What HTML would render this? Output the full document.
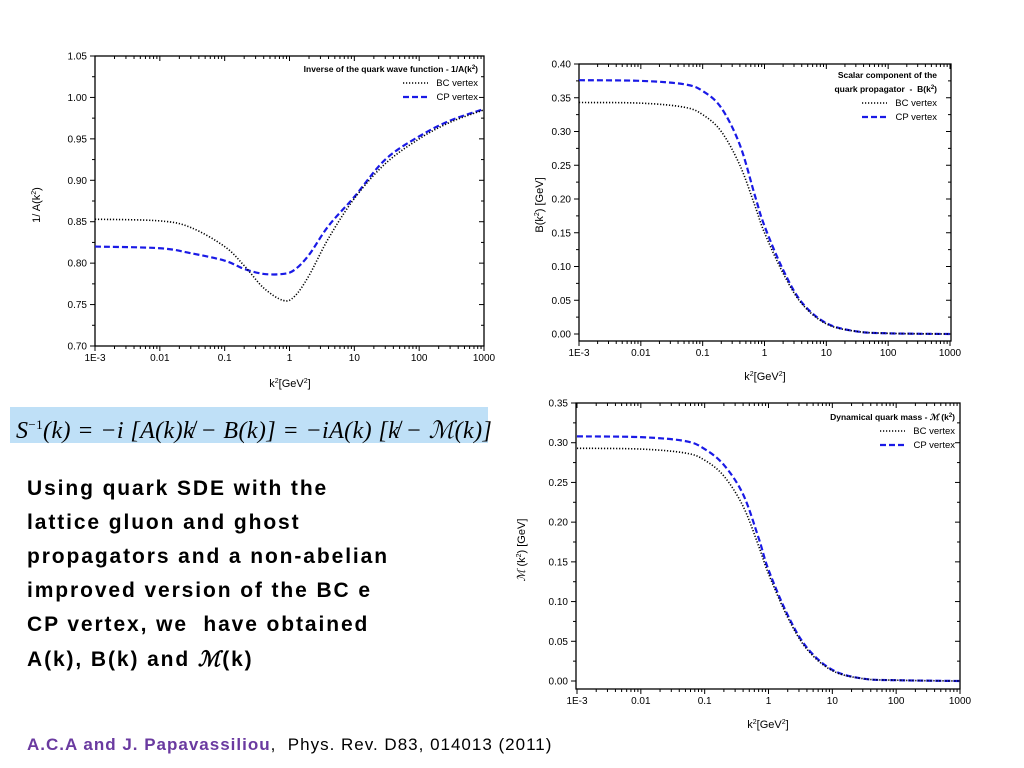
<!DOCTYPE html>
<html><head><meta charset="utf-8">
<style>
body{margin:0;width:1024px;height:768px;background:#fff;overflow:hidden;position:relative;font-family:"Liberation Sans",sans-serif}
.txt{position:absolute;left:27px;top:472px;font-weight:bold;font-size:21px;letter-spacing:1.9px;line-height:34px;color:#000;white-space:nowrap}
.cite{position:absolute;left:27px;top:735px;font-size:17px;letter-spacing:1px;color:#000;white-space:nowrap}
.formula{position:absolute;left:10px;top:407px;width:478px;height:36px;background:#bfe0f7;font-family:"Liberation Serif",serif;font-size:24px;line-height:36px;padding-left:6px;box-sizing:border-box;font-style:italic;white-space:nowrap;letter-spacing:0.4px}
svg{position:absolute;left:0;top:0}
</style></head><body>
<svg id="svg" width="1024" height="768"></svg>
<div class="formula">S<sup style="font-size:13px;font-style:normal">−1</sup>(k) = −i [A(k)k̸ − B(k)] = −iA(k) [k̸ − ℳ(k)]</div>
<div class="txt">Using quark SDE with the<br>lattice gluon and ghost<br>propagators and a non-abelian<br>improved version of the BC e<br>CP vertex, we&nbsp; have obtained<br>A(k), B(k) and <i style="font-family:'Liberation Serif',serif">ℳ</i>(k)</div>
<div class="cite"><b style="color:#6a3aa0">A.C.A and J. Papavassiliou</b>,&nbsp; Phys. Rev. D83, 014013 (2011)</div>
<script>
const kVals=[0.001,0.01,0.03,0.1,0.2,0.4,0.8,1.2,2,4,10,30,100,300,1000];
const aBC=[0.853,0.851,0.843,0.820,0.797,0.770,0.755,0.760,0.785,0.830,0.878,0.920,0.950,0.970,0.985];
const aCP=[0.820,0.818,0.812,0.803,0.793,0.787,0.787,0.792,0.810,0.845,0.880,0.925,0.953,0.972,0.986];
const kVals2=[0.001,0.01,0.05,0.1,0.2,0.4,0.7,1,2,4,10,30,100,1000];
const bBC=[0.343,0.342,0.336,0.325,0.300,0.250,0.190,0.150,0.090,0.045,0.015,0.004,0.001,0];
const bCP=[0.376,0.375,0.370,0.360,0.335,0.280,0.205,0.160,0.095,0.047,0.016,0.004,0.001,0];
const mBC=[0.293,0.292,0.287,0.278,0.258,0.220,0.170,0.135,0.080,0.040,0.013,0.003,0.001,0];
const mCP=[0.308,0.307,0.302,0.292,0.272,0.235,0.180,0.140,0.083,0.042,0.014,0.003,0.001,0];
const xTicks=["1E-3","0.01","0.1","1","10","100","1000"];
const yTicks1=[0.70,0.75,0.80,0.85,0.90,0.95,1.00,1.05];
const yTicks2=[0,0.05,0.10,0.15,0.20,0.25,0.30,0.35,0.40];
const yTicks3=[0,0.05,0.10,0.15,0.20,0.25,0.30,0.35];

const NS="http://www.w3.org/2000/svg";
const svg=document.getElementById('svg');
function mk(tag,attrs,parent){const e=document.createElementNS(NS,tag);for(const k in attrs)e.setAttribute(k,attrs[k]);(parent||svg).appendChild(e);return e;}
function smooth(pts){let d='M'+pts[0][0]+','+pts[0][1];for(let i=0;i<pts.length-1;i++){const p0=pts[i-1]||pts[i],p1=pts[i],p2=pts[i+1],p3=pts[i+2]||p2;
d+=' C'+(p1[0]+(p2[0]-p0[0])/6)+','+(p1[1]+(p2[1]-p0[1])/6)+' '+(p2[0]-(p3[0]-p1[0])/6)+','+(p2[1]-(p3[1]-p1[1])/6)+' '+p2[0]+','+p2[1];}return d;}

function chart(c){
  const g=mk('g',{});
  
  
  const xs=v=>c.x0+(Math.log10(v)+3)/6*(c.x1-c.x0);
  const ys=v=>c.y0+(v-c.ymin)/(c.ymax-c.ymin)*(c.y1-c.y0);
  const frame=mk('rect',{x:c.fl,y:c.ft,width:c.fr-c.fl,height:c.fb-c.ft,fill:'none',stroke:'#000','stroke-width':1.3},g);
  
  
  for(let d=-3;d<=3;d++){
    for(let m=1;m<10;m++){
      if(d==3&&m>1)break;
      const x=xs(m*Math.pow(10,d));const L=m==1?5:3;
      mk('line',{x1:x,x2:x,y1:c.fb,y2:c.fb+L,stroke:'#000','stroke-width':1},g);
      mk('line',{x1:x,x2:x,y1:c.ft,y2:c.ft+L,stroke:'#000','stroke-width':1},g);
    }
  }
  xTicks.forEach((t,i)=>{const tx=mk('text',{x:xs(Math.pow(10,i-3)),y:c.fb+15,'font-size':10,'text-anchor':'middle'},g);tx.textContent=t;
    });
  c.yt.forEach((v,i)=>{const y=ys(v);
    mk('line',{x1:c.fl-5,x2:c.fl,y1:y,y2:y,stroke:'#000'},g);
    mk('line',{x1:c.fr-5,x2:c.fr,y1:y,y2:y,stroke:'#000'},g);
    if(i<c.yt.length-1){const ym=ys(v+(c.yt[1]-c.yt[0])/2);mk('line',{x1:c.fl-3,x2:c.fl,y1:ym,y2:ym,stroke:'#000'},g);mk('line',{x1:c.fr-3,x2:c.fr,y1:ym,y2:ym,stroke:'#000'},g);}
    const tx=mk('text',{x:c.fl-8,y:y+3.5,'font-size':10,'text-anchor':'end'},g);tx.textContent=v.toFixed(2);
    });
  const xt=mk('text',{x:c.xtx,y:c.xty,'font-size':11,'text-anchor':'middle'},g);
  xt.innerHTML='k<tspan dy="-4" font-size="7">2</tspan><tspan dy="4">[GeV</tspan><tspan dy="-4" font-size="7">2</tspan><tspan dy="4">]</tspan>';
  
  const yt=mk('text',{x:0,y:0,'font-size':11,'text-anchor':'middle',transform:`translate(${c.ytx},${c.yty}) rotate(-90)`},g);
  yt.innerHTML=c.ytitle;
  
  const cp=mk('path',{d:smooth(c.k.map((k,i)=>[xs(k),ys(c.cp[i])])),fill:'none',stroke:'#1a1ae6','stroke-width':2.2,'stroke-dasharray':'6,3'},g);
  
  const bc=mk('path',{d:smooth(c.k.map((k,i)=>[xs(k),ys(c.bc[i])])),fill:'none',stroke:'#000','stroke-width':1.6,'stroke-dasharray':'1.2,1.8'},g);
  
  let y=c.ly;
  c.ltitle.forEach(t=>{const e=mk('text',{x:c.lx,y:y,'font-size':8.5,'font-weight':'bold','text-anchor':'end'},g);e.innerHTML=t;y+=14;});
  [['BC vertex','#000','1.2,1.8',1.6],['CP vertex','#1a1ae6','6,3',2.2]].forEach(([t,col,da,w])=>{
    mk('line',{x1:c.lx-75,x2:c.lx-50,y1:y-3,y2:y-3,stroke:col,'stroke-dasharray':da,'stroke-width':w},g);
    const e=mk('text',{x:c.lx,y:y,'font-size':9.5,'text-anchor':'end'},g);e.textContent=t;
    y+=14;});
}
chart({name:'inverse-wave-function-chart',fl:95,fr:484,ft:56,fb:346,x0:95,x1:484,y0:346,y1:56,ymin:0.70,ymax:1.05,yt:yTicks1,k:kVals,bc:aBC,cp:aCP,
  xtx:290,xty:387,ytx:40,yty:205,ytitle:'1/ A(k<tspan dy="-4" font-size="7">2</tspan><tspan dy="4">)</tspan>',
  lx:478,ly:72,ltitle:['Inverse of the quark wave function - 1/A(k<tspan dy="-3" font-size="6">2</tspan><tspan dy="3">)</tspan>']});
chart({name:'scalar-component-chart',fl:579,fr:951,ft:64,fb:341,x0:579,x1:950,y0:334,y1:64,ymin:0,ymax:0.40,yt:yTicks2,k:kVals2,bc:bBC,cp:bCP,
  xtx:765,xty:380,ytx:543,yty:205,ytitle:'B(k<tspan dy="-4" font-size="7">2</tspan><tspan dy="4">) [GeV]</tspan>',
  lx:937,ly:78,ltitle:['Scalar component of the','quark propagator&#160; - &#160;B(k<tspan dy="-3" font-size="6">2</tspan><tspan dy="3">)</tspan>']});
chart({name:'dynamical-mass-chart',fl:576,fr:960,ft:403,fb:689,x0:577,x1:960,y0:681,y1:403,ymin:0,ymax:0.35,yt:yTicks3,k:kVals2,bc:mBC,cp:mCP,
  xtx:768,xty:728,ytx:525,yty:550,ytitle:'<tspan font-style="italic" font-family="Liberation Serif">ℳ</tspan> (k<tspan dy="-4" font-size="7">2</tspan><tspan dy="4">) [GeV]</tspan>',
  lx:955,ly:420,ltitle:['Dynamical quark mass - <tspan font-style="italic">ℳ</tspan> (k<tspan dy="-3" font-size="6">2</tspan><tspan dy="3">)</tspan>']});
</script>
</body></html>
